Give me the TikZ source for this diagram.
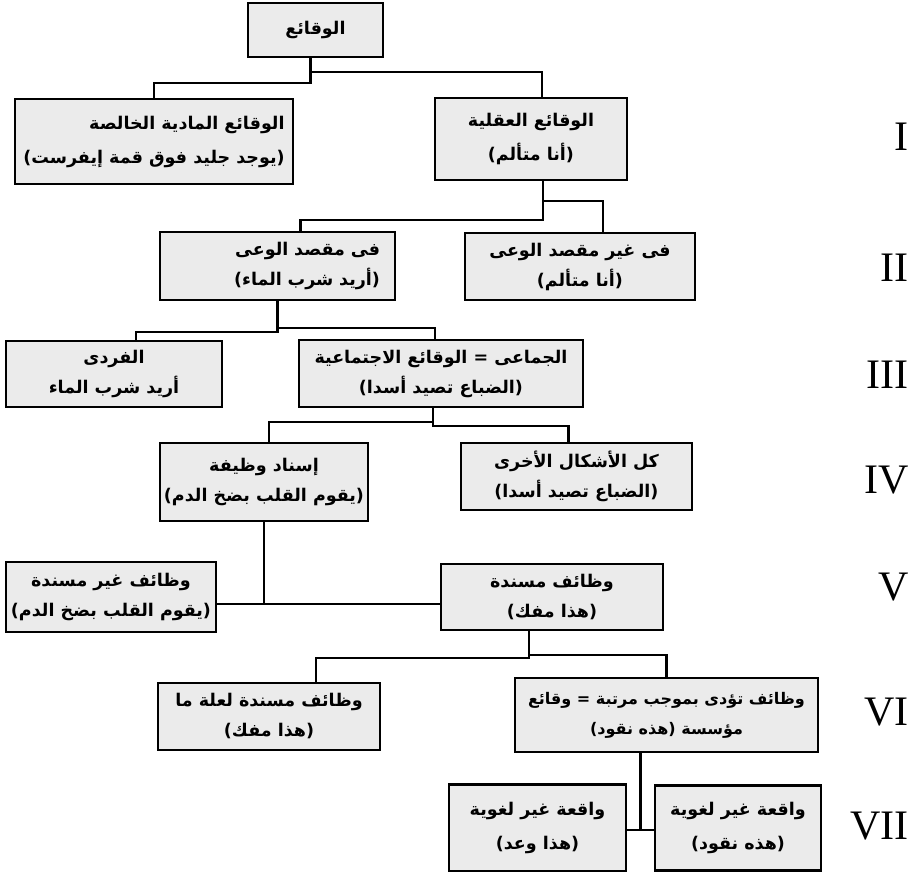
\documentclass[tikz,border=0pt]{standalone}
\usepackage{fontspec}
\usepackage{tikz}
\usetikzlibrary{positioning}
\newfontfamily\arabicfont[Script=Arabic]{DejaVu Sans}
\newfontfamily\numfont{Liberation Serif}
\TeXXeTstate=1
\newcommand{\artxt}[1]{\beginR #1\endR}

\tikzset{
  factbox/.style={draw, line width=2.4pt, fill=gray!16, inner sep=4pt,
    font=\arabicfont\bfseries\fontsize{17.5}{30}\selectfont},
  link/.style={line width=2.2pt},
  level/.style={anchor=east, font=\numfont\fontsize{42}{42}\selectfont},
}

\begin{document}
\begin{tikzpicture}[x=1pt, y=-1pt]
    \useasboundingbox (0,0) rectangle (922,872);

    % top
    \node[factbox, minimum width=135, minimum height=54] (facts) at (315.5,30) {\artxt{الوقائع}};

    % I
    \node[factbox, align=right, minimum width=278, minimum height=85] (brute) at (154,141.5)
        {\artxt{الوقائع المادية الخالصة}\\[4pt]\artxt{(يوجد جليد فوق قمة إيفرست)}};
    \node[factbox, align=center, minimum width=192, minimum height=82] (mental) at (531,139)
        {\artxt{الوقائع العقلية}\\[4pt]\artxt{(أنا متألم)}};

    % II
    \node[factbox, align=right, text width=205, minimum width=235, minimum height=68] (intent) at (277.5,266)
        {\artxt{فى مقصد الوعى}\\\artxt{(أريد شرب الماء)}};
    \node[factbox, align=center, minimum width=230, minimum height=67] (nonintent) at (580,266.5)
        {\artxt{فى غير مقصد الوعى}\\\artxt{(أنا متألم)}};

    % III
    \node[factbox, align=center, minimum width=216, minimum height=66] (single) at (114,374)
        {\artxt{الفردى}\\\artxt{أريد شرب الماء}};
    \node[factbox, align=center, minimum width=284, minimum height=67] (collective) at (441,373.5)
        {\artxt{الجماعى = الوقائع الاجتماعية}\\\artxt{(الضباع تصيد أسدا)}};

    % IV
    \node[factbox, align=center, minimum width=204, minimum height=78] (assign) at (264,482)
        {\artxt{إسناد وظيفة}\\\artxt{(يقوم القلب بضخ الدم)}};
    \node[factbox, align=center, minimum width=231, minimum height=67] (other) at (576.5,476.5)
        {\artxt{كل الأشكال الأخرى}\\\artxt{(الضباع تصيد أسدا)}};

    % V
    \node[factbox, align=center, minimum width=210, minimum height=70] (nonassigned) at (111,597)
        {\artxt{وظائف غير مسندة}\\\artxt{(يقوم القلب بضخ الدم)}};
    \node[factbox, align=center, minimum width=222, minimum height=66] (assigned) at (552,597)
        {\artxt{وظائف مسندة}\\\artxt{(هذا مفك)}};

    % VI
    \node[factbox, align=center, minimum width=222, minimum height=67] (causal) at (269,716.5)
        {\artxt{وظائف مسندة لعلة ما}\\\artxt{(هذا مفك)}};
    \node[factbox, align=center, minimum width=303, minimum height=74, font=\arabicfont\bfseries\fontsize{16}{30}\selectfont] (status) at (666.5,715)
        {\artxt{وظائف تؤدى بموجب مرتبة = وقائع}\\\artxt{مؤسسة (هذه نقود)}};

    % VII
    \node[factbox, align=center, minimum width=177, minimum height=87] (vowel) at (537.5,828)
        {\artxt{واقعة غير لغوية}\\[4pt]\artxt{(هذا وعد)}};
    \node[factbox, align=center, minimum width=166, minimum height=85] (money) at (738,828)
        {\artxt{واقعة غير لغوية}\\[4pt]\artxt{(هذه نقود)}};

    % connectors
    \draw[link] ([xshift=-5pt]facts.south) -- ++(0,25) -| (brute.north);
    \draw[link] ([xshift=-5pt]facts.south) ++(0,14) -| ([xshift=11pt]mental.north);

    \draw[link] ([xshift=12pt]mental.south) -- ++(0,39) -| ([xshift=23pt]intent.north);
    \draw[link] ([xshift=12pt]mental.south) ++(0,20) -| ([xshift=23pt]nonintent.north);

    \draw[link] (intent.south) -- ++(0,31) -| ([xshift=22pt]single.north);
    \draw[link] (intent.south) ++(0,27) -| ([xshift=-6pt]collective.north);

    \draw[link] ([xshift=-8pt]collective.south) -- ++(0,18) -| ([xshift=-8pt]other.north);
    \draw[link] ([xshift=-8pt]collective.south) ++(0,14) -| ([xshift=5pt]assign.north);

    \coordinate (bus) at ([yshift=-7pt]assigned.west);
    \draw[link] (nonassigned.east |- bus) -- (bus);
    \draw[link] (assign.south) -- (assign.south |- bus);

    \draw[link] ([xshift=-23pt]assigned.south) -- ++(0,27) -| ([xshift=47pt]causal.north);
    \draw[link] ([xshift=-23pt]assigned.south) ++(0,24) -| (status.north);

    \coordinate (tee) at ([yshift=-2pt]money.west);
    \draw[link] (vowel.east |- tee) -- (tee);
    \draw[link] ([xshift=-26pt]status.south) -- ([xshift=-26pt]status.south |- tee);

    % levels
    \node[level] (lvI) at (912,137) {I};
    \node[level] (lvII) at (912,268) {II};
    \node[level] (lvIII) at (912,375) {III};
    \node[level] (lvIV) at (912,480) {IV};
    \node[level] (lvV) at (912,587) {V};
    \node[level] (lvVI) at (912,712) {VI};
    \node[level] (lvVII) at (912,826) {VII};
\end{tikzpicture}
\end{document}
